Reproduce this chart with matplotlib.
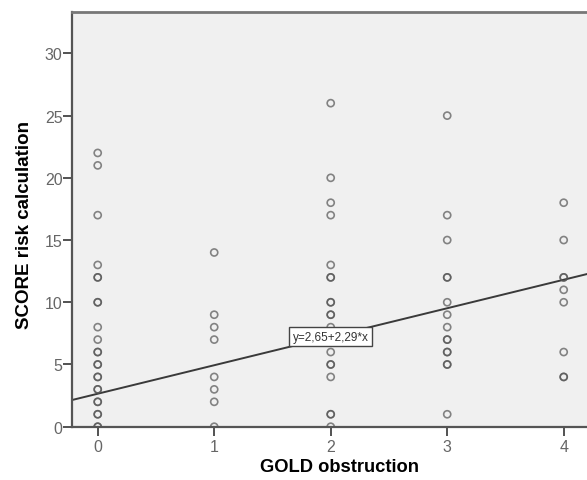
import matplotlib
matplotlib.use("Agg")
import matplotlib.pyplot as plt
import numpy as np

# GOLD obstruction category and SCORE values (duplicates = overlapping points)
gold0 = [22, 21, 17, 13, 12, 12, 10, 10, 8, 7, 6, 6, 5, 5, 4, 4, 3, 3, 2, 2, 1, 1, 0, 0]
gold1 = [14, 9, 8, 7, 4, 3, 2, 0]
gold2 = [26, 20, 18, 17, 13, 12, 12, 10, 10, 9, 9, 8, 7, 6, 5, 5, 4, 1, 1, 0]
gold3 = [25, 17, 15, 12, 12, 10, 9, 8, 7, 7, 6, 6, 5, 5, 1]
gold4 = [18, 15, 12, 12, 11, 10, 6, 4, 4]
groups = [gold0, gold1, gold2, gold3, gold4]

intercept = 2.65
slope = 2.29
fit_label = "y=2,65+2,29*x"

x_ticks = [0, 1, 2, 3, 4]
y_ticks = [0, 5, 10, 15, 20, 25, 30]

narrow = ["Liberation Sans Narrow", "Arial Narrow", "Liberation Sans"]

fig = plt.figure(figsize=(5.87, 4.81), dpi=100)
ax = fig.add_axes([0.1232, 0.1108, 0.8768 + 0.002, 0.8615])
ax.set_facecolor("#f0f0f0")

xs, ys = [], []
for g, vals in enumerate(groups):
    xs += [g] * len(vals)
    ys += vals
ax.scatter(xs, ys, s=26, facecolors="none", edgecolors=(0.33, 0.33, 0.33, 0.7),
           linewidths=1.2, zorder=3)

xmin, xmax = -0.218, 4.21
ax.set_xlim(xmin, xmax)
ax.set_ylim(0, 33.3)

lx = np.array([xmin, xmax])
ax.plot(lx, intercept + slope * lx, color="#3a3a3a", lw=1.4, zorder=2)

ax.text(2.0, intercept + slope * 2.0, fit_label, ha="center", va="center",
        fontsize=8.5, family=narrow, fontstretch="condensed", color="#333333",
        bbox=dict(boxstyle="square,pad=0.3", fc="white", ec="#444444", lw=1.0), zorder=4)

ax.set_xticks(x_ticks)
ax.set_yticks(y_ticks)
tick_font = dict(family=narrow, size=11.5, stretch="condensed")
ax.set_xticklabels([str(t) for t in x_ticks], color="#666666", **tick_font)
ax.set_yticklabels([str(t) for t in y_ticks], color="#666666", **tick_font)
ax.tick_params(axis="x", direction="out", length=6.5, width=1.3, color="#444444", pad=2)
ax.tick_params(axis="y", direction="out", length=6.5, width=1.3, color="#444444", pad=0.5)

for side in ["left", "bottom", "top"]:
    ax.spines[side].set_color("#555555")
    ax.spines[side].set_linewidth(1.6)
ax.spines["top"].set_color("#777777")
ax.spines["top"].set_linewidth(2.0)
ax.spines["right"].set_visible(False)

fig.text(339 / 587, 1 - 468 / 481, "GOLD obstruction", ha="center", va="center",
         fontsize=13.2, fontweight="bold", family=["Liberation Sans", "DejaVu Sans"])
fig.text(25 / 587, 1 - 225 / 481, "SCORE risk calculation", ha="center", va="center",
         rotation=90, fontsize=13.5, fontweight="bold", family=["Liberation Sans", "DejaVu Sans"])

fig.savefig("out.png", dpi=100, facecolor="white")
